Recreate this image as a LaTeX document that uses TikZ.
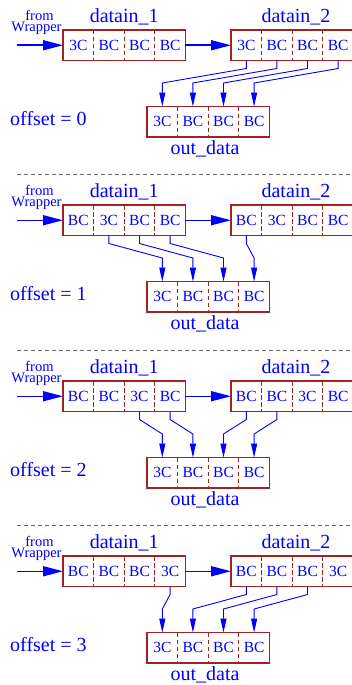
\documentclass[tikz,border=0pt]{standalone}
\usepackage{fontspec}
\setmainfont{Liberation Serif}
\usetikzlibrary{arrows.meta,calc}
\definecolor{boxred}{RGB}{160,35,35}
\definecolor{txtblue}{RGB}{0,0,255}
\tikzset{
  regbox/.style={draw=boxred, line width=1.5pt, rectangle, minimum width=122.4pt, minimum height=30.5pt, inner sep=0pt, outer sep=0pt, anchor=north west},
  celltxt/.style={rectangle, minimum width=30.6pt, minimum height=30.5pt, inner sep=0pt, outer sep=0pt, text=txtblue, font=\fontsize{15.5}{15.5}\selectfont},
  cellsep/.style={draw=boxred, line width=1.2pt, dash pattern=on 4.5pt off 2.5pt},
  bigarrow/.style={draw=txtblue, line width=1.5pt, -{Triangle[length=20pt,width=10pt]}},
  conn/.style={draw=txtblue, line width=0.9pt, -{Triangle[length=14pt,width=6pt]}},
  lbl/.style={text=txtblue, font=\fontsize{20}{20}\selectfont, inner sep=0pt, anchor=base},
  smlbl/.style={text=txtblue, font=\fontsize{14.5}{14.5}\selectfont, inner sep=0pt, anchor=base},
  sepline/.style={draw=black!60, line width=1pt, dash pattern=on 4pt off 3pt},
}
\newcommand\regbox[7]{%
  \foreach \i/\t in {1/#4,2/#5,3/#6,4/#7}{%
    \node[celltxt] (#1c\i) at ($(#2,#3)+(\i*30.6-15.3,15.25)$) {\t};}
  \foreach \i in {1,2,3}{\draw[cellsep] (#1c\i.north east) -- (#1c\i.south east);}
  \node[regbox] (#1) at (#2,#3) {};
}
\newcommand\conn[2]{\draw[conn] (#1.south) -- ++(0,8) -- ($(#2.north)+(0,-23.5)$) -- (#2.north);}
\newcommand\panelframe[3]{%
  \node[lbl] (#1l1) at (124.2,#2-7.5) {datain\_1};
  \node[lbl] (#1l2) at (296,#2-7.5) {datain\_2};
  \node[lbl, anchor=base west] (#1off) at (10,#2+95) {offset = #3};
  \node[lbl] (#1ol) at (205,#2+124.5) {out\_data};
  \node[smlbl] (#1from) at (39.5,#2-9.5) {from};
  \node[smlbl] (#1wrap) at (36.5,#2+1.5) {Wrapper};
  \coordinate (#1src) at (17,#2+15.25);
  \regbox{#1out}{147}{#2+76.5}{3C}{BC}{BC}{BC}
}
\begin{document}
\begin{tikzpicture}[x=1pt,y=-1pt]
\useasboundingbox (0,0) rectangle (351,685);
% panel 1
\panelframe{a}{30}{0}
\regbox{ad1}{63}{30}{3C}{BC}{BC}{BC}
\regbox{ad2}{231}{30}{3C}{BC}{BC}{BC}
\draw[bigarrow] (asrc) -- (ad1.west);
\draw[bigarrow] (ad1.east) -- (ad2.west);
\conn{ad2c1}{aoutc1}\conn{ad2c2}{aoutc2}\conn{ad2c3}{aoutc3}\conn{ad2c4}{aoutc4}
% separator
\coordinate (s1a) at (17,174.5); \coordinate (s1b) at (351,174.5);
\draw[sepline] (s1a) -- (s1b);
% panel 2
\panelframe{b}{205}{1}
\regbox{bd1}{63}{205}{BC}{3C}{BC}{BC}
\regbox{bd2}{231}{205}{BC}{3C}{BC}{BC}
\draw[bigarrow] (bsrc) -- (bd1.west);
\draw[bigarrow] (bd1.east) -- (bd2.west);
\conn{bd1c2}{boutc1}\conn{bd1c3}{boutc2}\conn{bd1c4}{boutc3}\conn{bd2c1}{boutc4}
% separator
\coordinate (s2a) at (17,350); \coordinate (s2b) at (351,350);
\draw[sepline] (s2a) -- (s2b);
% panel 3
\panelframe{c}{381}{2}
\regbox{cd1}{63}{381}{BC}{BC}{3C}{BC}
\regbox{cd2}{231}{381}{BC}{BC}{3C}{BC}
\draw[bigarrow] (csrc) -- (cd1.west);
\draw[bigarrow] (cd1.east) -- (cd2.west);
\conn{cd1c3}{coutc1}\conn{cd1c4}{coutc2}\conn{cd2c1}{coutc3}\conn{cd2c2}{coutc4}
% separator
\coordinate (s3a) at (17,525); \coordinate (s3b) at (351,525);
\draw[sepline] (s3a) -- (s3b);
% panel 4
\panelframe{d}{556}{3}
\regbox{dd1}{63}{556}{BC}{BC}{BC}{3C}
\regbox{dd2}{231}{556}{BC}{BC}{BC}{3C}
\draw[bigarrow] (dsrc) -- (dd1.west);
\draw[bigarrow] (dd1.east) -- (dd2.west);
\conn{dd1c4}{doutc1}\conn{dd2c1}{doutc2}\conn{dd2c2}{doutc3}\conn{dd2c3}{doutc4}
\end{tikzpicture}
\end{document}
